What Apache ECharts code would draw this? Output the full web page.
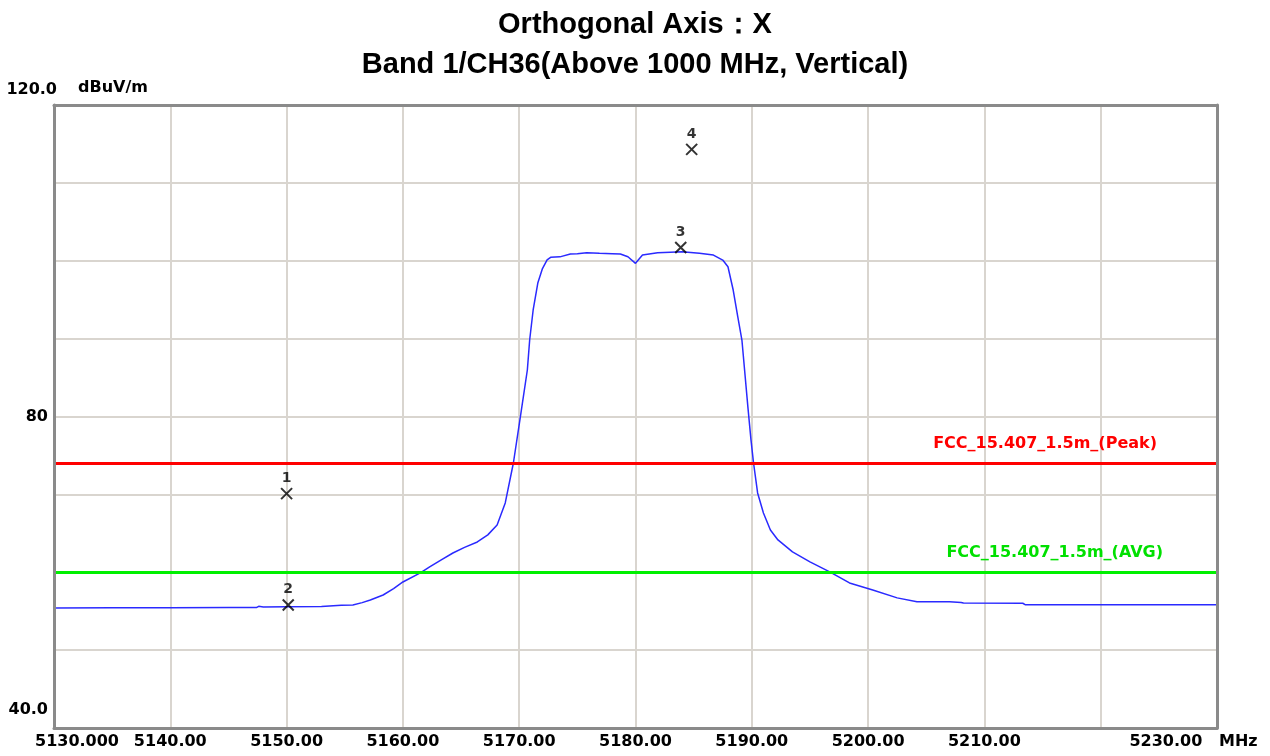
<!DOCTYPE html>
<html>
<head>
<meta charset="utf-8">
<script src="https://cdn.jsdelivr.net/npm/echarts@6/dist/echarts.min.js"></script>
<style>
  html, body { margin: 0; padding: 0; background: #ffffff; }
  #chart { width: 1270px; height: 756px; }
</style>
</head>
<body>
<div id="chart"></div>
<script>
// ---- Data ----
const titleLines = ['Orthogonal Axis：X', 'Band 1/CH36(Above 1000 MHz, Vertical)'];
const yUnit = 'dBuV/m';
const xUnit = 'MHz';

// Trace (frequency in MHz, level in dBuV/m)
const freqMHz = [
  5130.0, 5135.0, 5140.0, 5145.0, 5147.4, 5147.6, 5148.0, 5150.0, 5153.0, 5154.7,
  5155.7, 5156.5, 5157.2, 5158.3, 5159.2, 5160.0, 5161.5, 5162.3, 5163.3, 5164.3,
  5165.3, 5166.4, 5167.3, 5168.1, 5168.8, 5169.5, 5170.1, 5170.7, 5170.9, 5171.2,
  5171.6, 5172.0, 5172.4, 5172.7, 5173.5, 5174.4, 5175.0, 5175.8, 5176.9, 5178.0,
  5178.7, 5179.35, 5180.0, 5180.6, 5181.9, 5183.0, 5184.0, 5185.5, 5186.7, 5187.5,
  5187.95, 5188.4, 5188.8, 5189.15, 5189.42, 5189.67, 5189.93, 5190.15, 5190.5, 5191.0,
  5191.6, 5192.25, 5193.5, 5195.0, 5196.7, 5198.4, 5200.4, 5202.5, 5204.2, 5207.0,
  5208.0, 5208.2, 5213.3, 5213.5, 5222.0, 5230.0
];
const levelDb = [
  55.40, 55.45, 55.45, 55.46, 55.46, 55.62, 55.55, 55.58, 55.60, 55.76,
  55.80, 56.10, 56.44, 57.08, 57.90, 58.75, 59.91, 60.68, 61.60, 62.47,
  63.20, 63.89, 64.80, 66.07, 68.90, 74.03, 79.94, 85.97, 89.82, 93.68,
  97.14, 99.00, 100.10, 100.44, 100.50, 100.86, 100.90, 101.03, 100.95, 100.90,
  100.86, 100.51, 99.67, 100.73, 101.03, 101.10, 101.16, 100.95, 100.73, 100.09,
  99.23, 96.24, 92.77, 89.82, 85.30, 81.10, 77.00, 74.03, 70.18, 67.61,
  65.43, 64.15, 62.61, 61.33, 60.05, 58.63, 57.73, 56.71, 56.20, 56.20,
  56.12, 56.05, 56.02, 55.84, 55.84, 55.84
];

// Markers
const markerNames = ['1', '2', '3', '4'];
const markerFreq = [5150.0, 5150.14, 5183.89, 5184.83];
const markerLevel = [70.1, 55.8, 101.7, 114.3];

// Limit lines
const limitNames = ['FCC_15.407_1.5m_(Peak)', 'FCC_15.407_1.5m_(AVG)'];
const limitLevels = [74, 60];

// Axes
const xMin = 5130, xMax = 5230, xStep = 10;
const yMin = 40, yMax = 120, yStep = 10;
const xTickLabels = {
  5130: '5130.000', 5140: '5140.00', 5150: '5150.00', 5160: '5160.00', 5170: '5170.00',
  5180: '5180.00', 5190: '5190.00', 5200: '5200.00', 5210: '5210.00', 5220: '', 5230: '5230.00'
};
const yTickLabels = { 40: '40.0', 80: '80', 120: '120.0' };

// ---- Chart ----
const FONT = 'DejaVu Sans';
const FRAME = { show: true, lineStyle: { color: '#8a8a8a', width: 3 } };
const chart = echarts.init(document.getElementById('chart'), null, { renderer: 'canvas' });

const traceData = freqMHz.map((f, i) => [f, levelDb[i]]);
const markerData = markerFreq.map((f, i) => [f, markerLevel[i]]);

function frameX(pos) {
  return {
    type: 'value', min: xMin, max: xMax, position: pos, z: 10,
    axisLine: FRAME, axisTick: { show: false }, axisLabel: { show: false },
    splitLine: { show: false }
  };
}
function frameY(pos) {
  return {
    type: 'value', min: yMin, max: yMax, position: pos, z: 10,
    axisLine: FRAME, axisTick: { show: false }, axisLabel: { show: false },
    splitLine: { show: false }
  };
}

const option = {
  backgroundColor: '#ffffff',
  animation: false,
  title: {
    text: titleLines.join('\n'),
    left: 'center',
    top: 0,
    textStyle: {
      fontFamily: 'Liberation Sans',
      fontSize: 29,
      fontWeight: 'bold',
      color: '#000000',
      lineHeight: 40
    }
  },
  grid: {
    left: 54, right: 53, top: 105, bottom: 28,
    containLabel: false,
    outerBoundsMode: 'none',
    show: false
  },
  xAxis: [
    {
      type: 'value',
      min: xMin, max: xMax, interval: xStep,
      axisLine: { show: false },
      axisTick: { show: false },
      splitLine: { show: true, lineStyle: { color: '#d9d5cf', width: 2 } },
      axisLabel: {
        show: true,
        showMinLabel: true,
        showMaxLabel: true,
        margin: 6,
        color: '#000000',
        fontFamily: FONT,
        fontSize: 16,
        fontWeight: 'bold',
        formatter: function (v) {
          const t = xTickLabels[Math.round(v)];
          if (!t) return '';
          if (Math.round(v) === xMin) return '{first|' + t + '}';
          if (Math.round(v) === xMax) return '{last|' + t + '   ' + xUnit + '}';
          return t;
        },
        rich: {
          first: { fontFamily: FONT, fontSize: 16, fontWeight: 'bold', color: '#000', padding: [0, 0, 0, 46] },
          last: { fontFamily: FONT, fontSize: 16, fontWeight: 'bold', color: '#000', padding: [0, 47, 0, 0] }
        }
      }
    },
    frameX('bottom'),
    frameX('top')
  ],
  yAxis: [
    {
      type: 'value',
      min: yMin, max: yMax, interval: yStep,
      name: yUnit,
      nameLocation: 'end',
      nameGap: 9,
      nameTextStyle: {
        fontFamily: FONT, fontSize: 16, fontWeight: 'bold', color: '#000',
        align: 'left', padding: [0, 0, 0, 24]
      },
      axisLine: { show: false },
      axisTick: { show: false },
      splitLine: { show: true, lineStyle: { color: '#d9d5cf', width: 2 } },
      axisLabel: {
        show: true,
        showMinLabel: true,
        showMaxLabel: true,
        margin: -3,
        color: '#000000',
        fontFamily: FONT,
        fontSize: 16,
        fontWeight: 'bold',
        formatter: function (v) {
          const t = yTickLabels[Math.round(v)];
          if (!t) return '';
          if (Math.round(v) === yMax) return '{top|' + t + '}';
          if (Math.round(v) === yMin) return '{bot|' + t + '}';
          return '{mid|' + t + '}';
        },
        rich: {
          top: { fontFamily: FONT, fontSize: 16, fontWeight: 'bold', color: '#000', padding: [0, 0, 30, 0] },
          mid: { fontFamily: FONT, fontSize: 16, fontWeight: 'bold', color: '#000', padding: [0, 9, 0, 0] },
          bot: { fontFamily: FONT, fontSize: 16, fontWeight: 'bold', color: '#000', padding: [0, 9, 36, 0] }
        }
      }
    },
    frameY('left'),
    frameY('right')
  ],
  series: [
    {
      name: 'Trace',
      type: 'line',
      xAxisIndex: 0, yAxisIndex: 0,
      data: traceData,
      showSymbol: false,
      symbol: 'none',
      smooth: false,
      lineStyle: { color: '#2a2aff', width: 1.5 },
      z: 3,
      markLine: {
        silent: true,
        symbol: ['none', 'none'],
        animation: false,
        data: [
          {
            yAxis: limitLevels[0],
            lineStyle: { color: '#ff0000', width: 3, type: 'solid' },
            label: {
              show: true, position: 'insideEndTop', distance: [60, 11],
              formatter: limitNames[0], color: '#ff0000',
              fontFamily: FONT, fontSize: 16, fontWeight: 'bold'
            }
          },
          {
            yAxis: limitLevels[1],
            lineStyle: { color: '#00f000', width: 3, type: 'solid' },
            label: {
              show: true, position: 'insideEndTop', distance: [54, 11],
              formatter: limitNames[1], color: '#00e000',
              fontFamily: FONT, fontSize: 16, fontWeight: 'bold'
            }
          }
        ]
      }
    },
    {
      name: 'Markers',
      type: 'scatter',
      xAxisIndex: 0, yAxisIndex: 0,
      data: markerData,
      symbol: 'path://M0,0L10,10M10,0L0,10',
      symbolSize: [11, 11],
      itemStyle: { color: 'rgba(0,0,0,0)', borderColor: '#000000', borderWidth: 2 },
      z: 5,
      label: {
        show: true,
        position: 'top',
        distance: 2,
        formatter: function (p) { return markerNames[p.dataIndex]; },
        color: '#000000',
        fontFamily: FONT,
        fontSize: 14,
        fontWeight: 'bold'
      }
    }
  ]
};

chart.setOption(option);
</script>
</body>
</html>
